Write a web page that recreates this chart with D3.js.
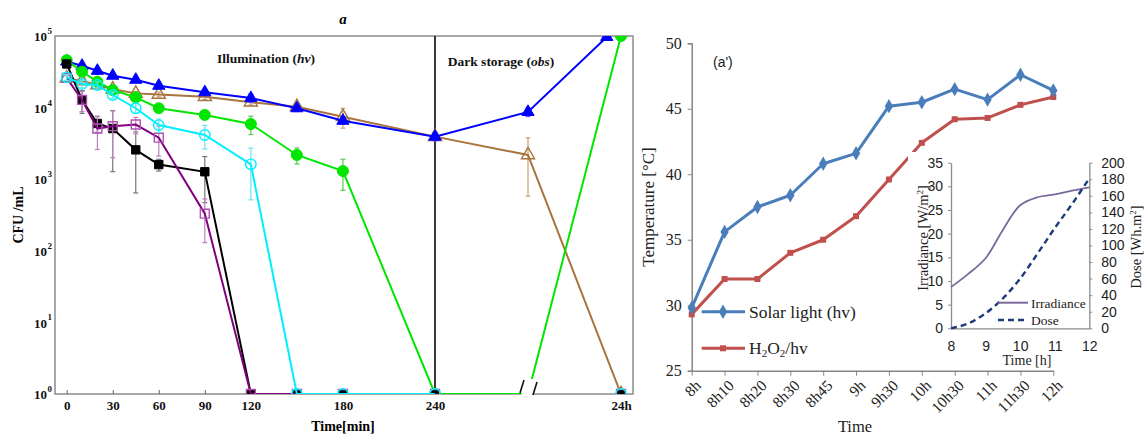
<!DOCTYPE html>
<html>
<head>
<meta charset="utf-8">
<script src="https://cdn.jsdelivr.net/npm/d3@7"></script>
<style>
  body { margin: 0; background: #fff; }
  svg { display: block; }
</style>
</head>
<body>
<div id="chart"></div>
<script>
// ---------- panel a : CFU/mL vs time (log scale) ----------
// time in minutes, 720 = dark storage point, 1440 = 24h
const times = [0, 10, 20, 30, 45, 60, 90, 120, 150, 180, 240, 720, 1440];
const blueTimes = [0, 10, 20, 30, 45, 60, 90, 120, 150, 180, 240, 720, 1330];
const xTicks = [0, 30, 60, 90, 120, 180, 240, 1440];
const xTickLabels = ["0", "30", "60", "90", "120", "180", "240", "24h"];
const yExponents = [0, 1, 2, 3, 4, 5];

const blueTri   = [44000, 38400, 32700, 27900, 24500, 20200, 16400, 13600, 9800, 6560, 3930, 8700, 97000];
const brownTri  = [25700, 23500, 20700, 18000, 15800, 15300, 14200, 11900, 10300, 7460, 3930, 2180, 1];
const greenDot  = [46000, 31700, 23000, 17600, 13900, 9800, 7900, 5900, 2180, 1300, 1, 1, 100000];
const cyanRing  = [26400, 21400, 20700, 15000, 9800, 5700, 4140, 1615, 1, 1, 1, null, 1];
const blackSq   = [40700, 12800, 6000, 5100, 2570, 1600, 1270, 1, 1, 1, 1, null, 1];
const purpleSq  = [26000, 12800, 5100, 5500, 5800, 3800, 330, 1, 1, 1, 1, null, 1];

const blueSd   = [3000, 3000, 3500, 2000, 1500, 1500, 1500, 1800, 1000, 700, 500, 1200, 0];
const brownSd  = [2500, 2000, 1500, 1500, 1000, 1200, 1200, 1000, 800, 2300, 400, 1600, 0];
const greenSd  = [3000, 2500, 2000, 1500, 1500, 1000, 1000, 1700, 550, 600, 0, 0, 0];
const cyanSd   = [2500, 2500, 2000, 1500, 1500, 1200, 1500, 1100, 0, 0, 0, 0, 0];
const blackSd  = [4000, 4500, 1500, 4000, 2000, 300, 800, 0, 0, 0, 0, 0, 0];
const purpleSd = [2000, 4000, 2500, 3500, 1500, 1700, 200, 0, 0, 0, 0, 0, 0];

// ---------- panel a' : temperature ----------
const timeLabels = ["8h", "8h10", "8h20", "8h30", "8h45", "9h", "9h30", "10h", "10h30", "11h", "11h30", "12h"];
const solarLight = [29.8, 35.6, 37.5, 38.4, 40.8, 41.6, 45.2, 45.5, 46.5, 45.7, 47.6, 46.4];
const h2o2hv     = [29.3, 32.0, 32.0, 34.0, 35.0, 36.8, 39.6, 42.4, 44.2, 44.3, 45.3, 45.9];

// inset : irradiance and dose
const insetHours = [8, 8.5, 9, 9.5, 10, 10.5, 11, 11.5, 12];
const irradiance = [8.7, 11.5, 14.8, 20.8, 26.0, 27.7, 28.3, 29.1, 29.8];
const dose       = [0, 6, 18, 36, 60, 90, 121, 150, 181];

const W = 1144, H = 438;
const svg = d3.select("#chart").append("svg")
  .attr("width", W).attr("height", H)
  .style("font-family", "'Liberation Serif', 'Times New Roman', serif");

// =================== left panel ===================
const A = { left: 55, right: 633, top: 36, bottom: 394 };
const xA = d3.scaleLinear().domain([0, 240, 720, 1440]).range([66.7, 435, 528, 621]);
const yA = d3.scaleLog().domain([1, 1e5]).range([A.bottom, A.top]);

svg.append("clipPath").attr("id", "clipA")
  .append("rect").attr("x", A.left).attr("y", A.top)
  .attr("width", A.right - A.left).attr("height", A.bottom - A.top);

// frame
svg.append("rect")
  .attr("x", A.left).attr("y", A.top)
  .attr("width", A.right - A.left).attr("height", A.bottom - A.top)
  .attr("fill", "none").attr("stroke", "#8c8c8c").attr("stroke-width", 1.5);

// x axis
const xAxisA = svg.append("g")
  .attr("transform", `translate(0,${A.bottom})`)
  .call(d3.axisBottom(xA).tickValues(xTicks)
    .tickFormat((d, i) => xTickLabels[i])
    .tickSizeInner(-4).tickSizeOuter(0).tickPadding(7));
xAxisA.select(".domain").remove();
xAxisA.selectAll("line").attr("stroke", "#666");
xAxisA.selectAll("text").attr("font-size", 13).attr("font-weight", "bold")
  .attr("fill", "#111").style("font-family", "'Liberation Serif', serif");

// y tick labels 10^n
const yLab = svg.append("g");
yExponents.forEach(e => {
  yLab.append("text")
    .attr("x", 47).attr("y", yA(Math.pow(10, e)))
    .attr("dy", "0.4em").attr("text-anchor", "end")
    .attr("font-size", 13).attr("font-weight", "bold").attr("fill", "#111")
    .text("10");
  yLab.append("text")
    .attr("x", 47.5).attr("y", yA(Math.pow(10, e)) - 2)
    .attr("font-size", 9).attr("font-weight", "bold").attr("fill", "#111")
    .text(e);
});

// separator illumination / dark
svg.append("line")
  .attr("x1", xA(240)).attr("x2", xA(240))
  .attr("y1", A.top).attr("y2", A.bottom)
  .attr("stroke", "#222").attr("stroke-width", 1.8);

const seriesA = [
  { vals: brownTri,  sd: brownSd,  t: times,     color: "#a8733d", err: "#c8a27a", sym: d3.symbolTriangle, size: 75, open: true },
  { vals: blueTri,   sd: blueSd,   t: blueTimes, color: "#0000ff", err: "#5c5cff", sym: d3.symbolTriangle, size: 65, open: false },
  { vals: greenDot,  sd: greenSd,  t: times,     color: "#00e600", err: "#55cc55", sym: d3.symbolCircle,   size: 95, open: false },
  { vals: blackSq,   sd: blackSd,  t: times,     color: "#000000", err: "#777777", sym: d3.symbolSquare,   size: 70, open: false },
  { vals: purpleSq,  sd: purpleSd, t: times,     color: "#800080", err: "#c080c0", sym: d3.symbolSquare,   size: 80, open: true, stroke: "#b050b0" },
  { vals: cyanRing,  sd: cyanSd,   t: times,     color: "#00f0ff", err: "#66e6f2", sym: d3.symbolCircle,   size: 85, open: true }
];

const plotA = svg.append("g").attr("clip-path", "url(#clipA)");

const lineA = d3.line()
  .defined(d => d.v != null)
  .x(d => xA(d.t)).y(d => yA(d.v));

seriesA.forEach(s => {
  const pts = s.t.map((t, i) => ({ t: t, v: s.vals[i], sd: s.sd[i] }));
  const g = plotA.append("g");
  // error bars
  pts.filter(p => p.v != null && p.sd > 0).forEach(p => {
    const lo = Math.max(p.v - p.sd, p.v * 0.25);
    const hi = p.v + p.sd;
    const x = xA(p.t);
    g.append("line").attr("x1", x).attr("x2", x)
      .attr("y1", yA(lo)).attr("y2", yA(hi))
      .attr("stroke", s.err).attr("stroke-width", 1.2);
    [lo, hi].forEach(e => g.append("line")
      .attr("x1", x - 2.5).attr("x2", x + 2.5)
      .attr("y1", yA(e)).attr("y2", yA(e))
      .attr("stroke", s.err).attr("stroke-width", 1.2));
  });
  g.append("path").datum(pts)
    .attr("d", lineA)
    .attr("fill", "none").attr("stroke", s.color).attr("stroke-width", 2);
  g.selectAll("path.mk").data(pts.filter(p => p.v != null))
    .join("path").attr("class", "mk")
    .attr("transform", p => `translate(${xA(p.t)},${yA(p.v)})`)
    .attr("d", d3.symbol().type(s.sym).size(s.size))
    .attr("fill", s.open ? "none" : s.color)
    .attr("stroke", s.stroke || s.color)
    .attr("stroke-width", s.open ? 1.4 : 1);
});

// axis break marks
svg.append("polygon")
  .attr("points", "521,397 525,379 536,379 532,397")
  .attr("fill", "#fff");
[[520, 393, 524, 380], [533, 395, 537, 382]].forEach(b => svg.append("line")
  .attr("x1", b[0]).attr("y1", b[1]).attr("x2", b[2]).attr("y2", b[3])
  .attr("stroke", "#111").attr("stroke-width", 1.6));

// labels
const illum = svg.append("text").attr("x", 266).attr("y", 63)
  .attr("text-anchor", "middle").attr("font-size", 13.5).attr("font-weight", "bold").attr("fill", "#111");
illum.append("tspan").text("Illumination (");
illum.append("tspan").attr("font-style", "italic").text("hv");
illum.append("tspan").text(")");

const dark = svg.append("text").attr("x", 501).attr("y", 66)
  .attr("text-anchor", "middle").attr("font-size", 13.5).attr("font-weight", "bold").attr("fill", "#111");
dark.append("tspan").text("Dark storage (");
dark.append("tspan").attr("font-style", "italic").text("obs");
dark.append("tspan").text(")");

svg.append("text").attr("x", 343).attr("y", 24)
  .attr("text-anchor", "middle").attr("font-size", 15)
  .attr("font-weight", "bold").attr("font-style", "italic").text("a");

svg.append("text").attr("transform", "translate(23,215) rotate(-90)")
  .attr("text-anchor", "middle").attr("font-size", 14).attr("font-weight", "bold")
  .text("CFU /mL");

svg.append("text").attr("x", 343).attr("y", 431)
  .attr("text-anchor", "middle").attr("font-size", 14).attr("font-weight", "bold")
  .text("Time[min]");

// =================== right panel ===================
const B = { left: 691.7, right: 1053.3, top: 43.3, bottom: 370.7 };
const xB = d3.scalePoint().domain(timeLabels).range([B.left, B.right]);
const yB = d3.scaleLinear().domain([25, 50]).range([B.bottom, B.top]);

const yAxisB = svg.append("g").attr("transform", `translate(${B.left},0)`)
  .call(d3.axisLeft(yB).tickValues(d3.range(25, 51, 5)).tickSize(4).tickPadding(6));
yAxisB.select(".domain").attr("stroke", "#868686").attr("stroke-width", 1.5);
yAxisB.selectAll("line").attr("stroke", "#868686");
yAxisB.selectAll("text").attr("font-size", 16).attr("fill", "#222")
  .style("font-family", "'Liberation Serif', serif");

const xAxisB = svg.append("g").attr("transform", `translate(0,${B.bottom})`)
  .call(d3.axisBottom(xB).tickSize(5).tickSizeOuter(0));
xAxisB.select(".domain").attr("stroke", "#868686").attr("stroke-width", 1.5);
xAxisB.selectAll("line").attr("stroke", "#868686");
xAxisB.selectAll("text")
  .attr("y", 0).attr("dy", "0.35em")
  .attr("transform", "translate(6,12) rotate(-45)")
  .attr("text-anchor", "end")
  .attr("font-size", 15.5).attr("fill", "#222")
  .style("font-family", "'Liberation Serif', serif");

const lineB = d3.line().x((d, i) => xB(timeLabels[i])).y(d => yB(d));

const seriesB = [
  { vals: h2o2hv,     color: "#c0504d", sym: d3.symbolSquare,  size: 36 },
  { vals: solarLight, color: "#4a7ebb", sym: d3.symbolDiamond, size: 60 }
];
seriesB.forEach(s => {
  svg.append("path").datum(s.vals).attr("d", lineB)
    .attr("fill", "none").attr("stroke", s.color).attr("stroke-width", 3)
    .attr("stroke-linejoin", "round");
  svg.append("g").selectAll("path").data(s.vals).join("path")
    .attr("transform", (d, i) => `translate(${xB(timeLabels[i])},${yB(d)})`)
    .attr("d", d3.symbol().type(s.sym).size(s.size))
    .attr("fill", s.color);
});

svg.append("text").attr("x", 713).attr("y", 67)
  .attr("font-size", 14).style("font-family", "'Liberation Sans', Arial, sans-serif")
  .attr("fill", "#222").text("(a')");

svg.append("text").attr("transform", "translate(654,207) rotate(-90)")
  .attr("text-anchor", "middle").attr("font-size", 17).attr("fill", "#222")
  .text("Temperature [°C]");

svg.append("text").attr("x", 855).attr("y", 432)
  .attr("text-anchor", "middle").attr("font-size", 16.5).attr("fill", "#222")
  .text("Time");

// legend
const legB = [
  { color: "#4a7ebb", sym: d3.symbolDiamond, size: 60, y: 311.7 },
  { color: "#c0504d", sym: d3.symbolSquare,  size: 36, y: 348.3 }
];
legB.forEach(l => {
  svg.append("line").attr("x1", 701.7).attr("x2", 745).attr("y1", l.y).attr("y2", l.y)
    .attr("stroke", l.color).attr("stroke-width", 3);
  svg.append("path").attr("transform", `translate(723,${l.y})`)
    .attr("d", d3.symbol().type(l.sym).size(l.size)).attr("fill", l.color);
});
svg.append("text").attr("x", 749).attr("y", 317.5).attr("font-size", 17.5)
  .attr("fill", "#222").text("Solar light (hv)");
const h2o = svg.append("text").attr("x", 749).attr("y", 354).attr("font-size", 17.5).attr("fill", "#222");
h2o.append("tspan").text("H");
h2o.append("tspan").attr("font-size", 11).attr("dy", 3).text("2");
h2o.append("tspan").attr("dy", -3).text("O");
h2o.append("tspan").attr("font-size", 11).attr("dy", 3).text("2");
h2o.append("tspan").attr("dy", -3).text("/hv");

// =================== inset ===================
svg.append("rect").attr("x", 908).attr("y", 152)
  .attr("width", W - 908).attr("height", 214).attr("fill", "#fff");

const C = { left: 951, right: 1089.3, top: 162.7, bottom: 328.3 };
const xC = d3.scaleLinear().domain([8, 12]).range([C.left, C.right]);
const yC = d3.scaleLinear().domain([0, 35]).range([C.bottom, C.top]);
const yC2 = d3.scaleLinear().domain([0, 200]).range([C.bottom, C.top]);
const sans = "'Liberation Sans', Arial, sans-serif";

const axC = [
  svg.append("g").attr("transform", `translate(${C.left},0)`)
    .call(d3.axisLeft(yC).tickValues(d3.range(0, 36, 5)).tickSize(3).tickSizeOuter(0).tickPadding(5)),
  svg.append("g").attr("transform", `translate(${C.right},0)`)
    .call(d3.axisRight(yC2).tickValues(d3.range(0, 201, 20)).tickSize(3).tickSizeOuter(0).tickPadding(9)),
  svg.append("g").attr("transform", `translate(0,${C.bottom})`)
    .call(d3.axisBottom(xC).tickValues([8, 9, 10, 11, 12]).tickFormat(d3.format("d"))
      .tickSize(0).tickPadding(13))
];
axC.forEach(g => {
  g.select(".domain").attr("stroke", "#8c8c8c").attr("stroke-width", 1.3);
  g.selectAll("line").attr("stroke", "#8c8c8c");
  g.selectAll("text").attr("font-size", 14).attr("fill", "#222").style("font-family", sans);
});

const irrLine = d3.line().curve(d3.curveCatmullRom.alpha(0.5))
  .x((d, i) => xC(insetHours[i])).y(d => yC(d));
const doseLine = d3.line().curve(d3.curveMonotoneX)
  .x((d, i) => xC(insetHours[i])).y(d => yC2(d));

svg.append("path").datum(irradiance).attr("d", irrLine)
  .attr("fill", "none").attr("stroke", "#7a6a9c").attr("stroke-width", 1.8);
svg.append("path").datum(dose).attr("d", doseLine)
  .attr("fill", "none").attr("stroke", "#1f3a7a").attr("stroke-width", 2.4)
  .attr("stroke-dasharray", "6,4");

// inset legend
svg.append("line").attr("x1", 998).attr("x2", 1028).attr("y1", 302.7).attr("y2", 302.7)
  .attr("stroke", "#7a6a9c").attr("stroke-width", 2);
svg.append("text").attr("x", 1031).attr("y", 307.5).attr("font-size", 13.5)
  .attr("fill", "#222").text("Irradiance");
svg.append("line").attr("x1", 998).attr("x2", 1028).attr("y1", 320).attr("y2", 320)
  .attr("stroke", "#1f3a7a").attr("stroke-width", 2.4).attr("stroke-dasharray", "6,4");
svg.append("text").attr("x", 1031).attr("y", 324.5).attr("font-size", 13.5)
  .attr("fill", "#222").text("Dose");

svg.append("text").attr("x", 1027).attr("y", 365)
  .attr("text-anchor", "middle").attr("font-size", 14).attr("fill", "#222").text("Time [h]");

const irrT = svg.append("text").attr("transform", "translate(928,238) rotate(-90)")
  .attr("text-anchor", "middle").attr("font-size", 14.5).attr("fill", "#222");
irrT.append("tspan").text("Irradiance [W/m");
irrT.append("tspan").attr("font-size", 9).attr("dy", -5).text("2");
irrT.append("tspan").attr("dy", 5).text("]");

const doseT = svg.append("text").attr("transform", "translate(1141,247) rotate(-90)")
  .attr("text-anchor", "middle").attr("font-size", 14.5).attr("fill", "#222");
doseT.append("tspan").text("Dose [Wh.m");
doseT.append("tspan").attr("font-size", 9).attr("dy", -5).text("2");
doseT.append("tspan").attr("dy", 5).text("]");
</script>
</body>
</html>
